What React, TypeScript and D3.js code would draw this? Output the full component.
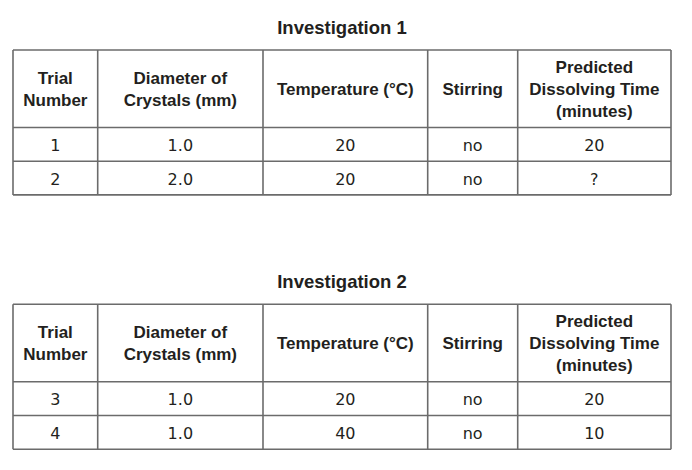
import { useEffect, useRef } from "react";
import * as d3 from "d3";

const headers = [
  ["Trial", "Number"],
  ["Diameter of", "Crystals (mm)"],
  ["Temperature (°C)"],
  ["Stirring"],
  ["Predicted", "Dissolving Time", "(minutes)"],
];

const titles = ["Investigation 1", "Investigation 2"];

const trialNumbers = [["1", "2"], ["3", "4"]];
const diameters = [["1.0", "2.0"], ["1.0", "1.0"]];
const temperatures = [["20", "20"], ["20", "40"]];
const stirring = [["no", "no"], ["no", "no"]];
const dissolvingTimes = [["20", "?"], ["20", "10"]];

const W = 692;
const H = 470;
const colEdges = [13, 97.7, 263, 427.7, 517.7, 671];
const headerH = 77.5;
const rowH = 33.7;
const tableTops = [50, 304.3];

const TEXT = "#231f20";
const LINE = "#6b6b6b";
const HEAD_FONT = "'Liberation Sans', Arial, sans-serif";
const BODY_FONT = "'DejaVu Sans', sans-serif";

export default function App() {
  const ref = useRef<SVGSVGElement>(null);

  useEffect(() => {
    if (!ref.current) return;
    const svg = d3.select(ref.current);
    svg.selectAll("*").remove();

    svg.append("rect").attr("width", W).attr("height", H).attr("fill", "#fff");

    const cx = (c: number) => (colEdges[c] + colEdges[c + 1]) / 2;
    const left = colEdges[0];
    const right = colEdges[colEdges.length - 1];

    titles.forEach((title, t) => {
      const top = tableTops[t];
      const rows = trialNumbers[t].map((_, i) => [
        trialNumbers[t][i],
        diameters[t][i],
        temperatures[t][i],
        stirring[t][i],
        dissolvingTimes[t][i],
      ]);
      const rowEdges = [top, top + headerH, ...rows.map((_, i) => top + headerH + rowH * (i + 1))];
      const bottom = rowEdges[rowEdges.length - 1];

      const g = svg.append("g");

      // title
      g.append("text")
        .attr("x", (left + right) / 2)
        .attr("y", top - 16.3)
        .attr("text-anchor", "middle")
        .attr("font-family", HEAD_FONT)
        .attr("font-weight", "bold")
        .attr("font-size", 18.5)
        .attr("fill", TEXT)
        .text(title);

      // header cells
      const headerMid = top + headerH / 2;
      const lh = 21.8;
      headers.forEach((lines, c) => {
        const first = headerMid - ((lines.length - 1) * lh) / 2;
        lines.forEach((ln, k) => {
          g.append("text")
            .attr("x", cx(c))
            .attr("y", first + k * lh + 6)
            .attr("text-anchor", "middle")
            .attr("font-family", HEAD_FONT)
            .attr("font-weight", "bold")
            .attr("font-size", 17)
            .attr("fill", TEXT)
            .text(ln);
        });
      });

      // body cells
      rows.forEach((row, r) => {
        const mid = (rowEdges[r + 1] + rowEdges[r + 2]) / 2;
        row.forEach((v, c) => {
          g.append("text")
            .attr("x", cx(c))
            .attr("y", mid + 6.5)
            .attr("text-anchor", "middle")
            .attr("font-family", BODY_FONT)
            .attr("font-size", 16)
            .attr("fill", TEXT)
            .text(v);
        });
      });

      // grid lines
      g.selectAll("line.h")
        .data(rowEdges)
        .enter()
        .append("line")
        .attr("class", "h")
        .attr("x1", left)
        .attr("x2", right)
        .attr("y1", (d) => d)
        .attr("y2", (d) => d)
        .attr("stroke", LINE)
        .attr("stroke-width", 1.6);
      g.selectAll("line.v")
        .data(colEdges)
        .enter()
        .append("line")
        .attr("class", "v")
        .attr("x1", (d) => d)
        .attr("x2", (d) => d)
        .attr("y1", top)
        .attr("y2", bottom)
        .attr("stroke", LINE)
        .attr("stroke-width", 1.6);
    });
  }, []);

  return (
    <svg
      ref={ref}
      width={W}
      height={H}
      style={{ position: "absolute", left: 0, top: 0, display: "block" }}
    />
  );
}
